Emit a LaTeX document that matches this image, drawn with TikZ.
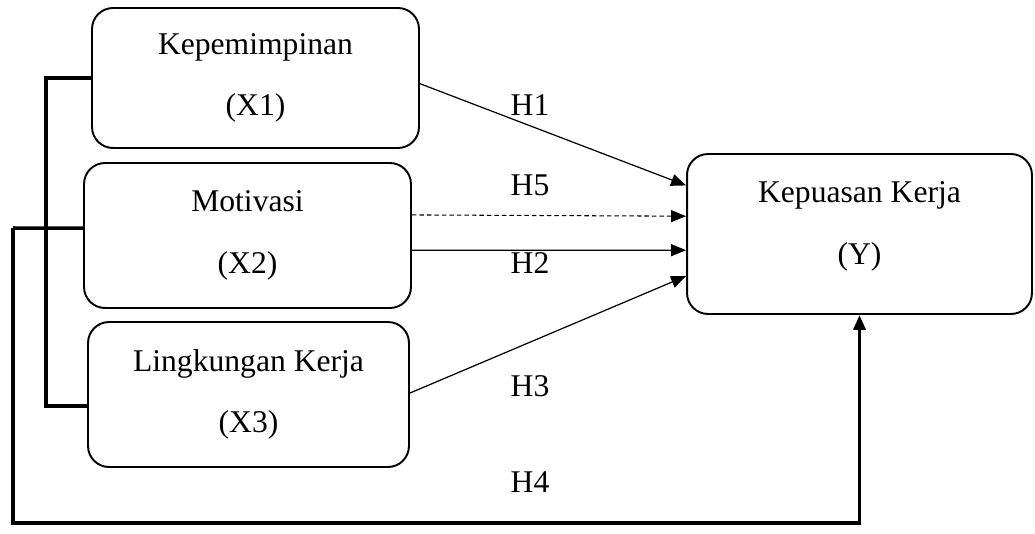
\documentclass[tikz,border=0pt]{standalone}
\usepackage{fontspec}
\setmainfont{Liberation Serif}
\usetikzlibrary{arrows.meta,calc,positioning}

\begin{document}
\begin{tikzpicture}[x=0.02cm,y=-0.02cm,>={Triangle[length=0.3cm,width=0.24cm]},
	font=\fontsize{18}{22}\selectfont,
	var/.style={draw,rounded corners=0.42cm,line width=1.1pt,align=center,inner sep=0pt},
	bus/.style={line width=2pt},
	rel/.style={line width=0.7pt,->},
	hyp/.style={inner sep=0pt}]
	\useasboundingbox (0,0) rectangle (1035,534);

	\node[var,minimum width=6.54cm,minimum height=2.8cm] (X1) at (255.5,78)
		{Kepemimpinan\\[13pt](X1)};
	\node[var,minimum width=6.54cm,minimum height=2.9cm] (X2) at (247.5,235.5)
		{Motivasi\\[13pt](X2)};
	\node[var,minimum width=6.42cm,minimum height=2.9cm] (X3) at (248.5,394.5)
		{Lingkungan Kerja\\[13pt](X3)};
	\node[var,minimum width=6.9cm,minimum height=3.2cm] (Y) at (859.5,234)
		{Kepuasan Kerja\\[13pt](Y)\\[-9.5pt]};

	% hypothesis arrows
	\draw[rel] ($(X1.north east)!.54!(X1.south east)$) -- ($(Y.north west)!.2!(Y.south west)$);
	\draw[rel,line width=0.6pt,dash pattern=on 0.09cm off 0.06cm]
		($(X2.north east)!.36!(X2.south east)$) -- ($(Y.north west)!.39!(Y.south west)$);
	\draw[rel] ($(X2.north east)!.6!(X2.south east)$) -- ($(Y.north west)!.6!(Y.south west)$);
	\draw[rel] ($(X3.north east)!.49!(X3.south east)$) -- ($(Y.north west)!.76!(Y.south west)$);

	% left brackets
	\coordinate (x2l) at ($(X2.north west)!.45!(X2.south west)$);
	\coordinate (x3l) at ($(X3.north west)!.58!(X3.south west)$);
	\draw[bus] (X1.west) -- ++(-45,0) |- (x3l);
	\draw[bus] (x2l) -- (13,228) coordinate (c1);
	\draw[bus,->] (c1) -- (13,523) -| (Y.south);

	\path
		(530,105) node[hyp] (h1) {H1}
		(530,185) node[hyp] (h5) {H5}
		(530,263) node[hyp] (h2) {H2}
		(530,386) node[hyp] (h3) {H3}
		(530,482) node[hyp] (h4) {H4};
\end{tikzpicture}
\end{document}
